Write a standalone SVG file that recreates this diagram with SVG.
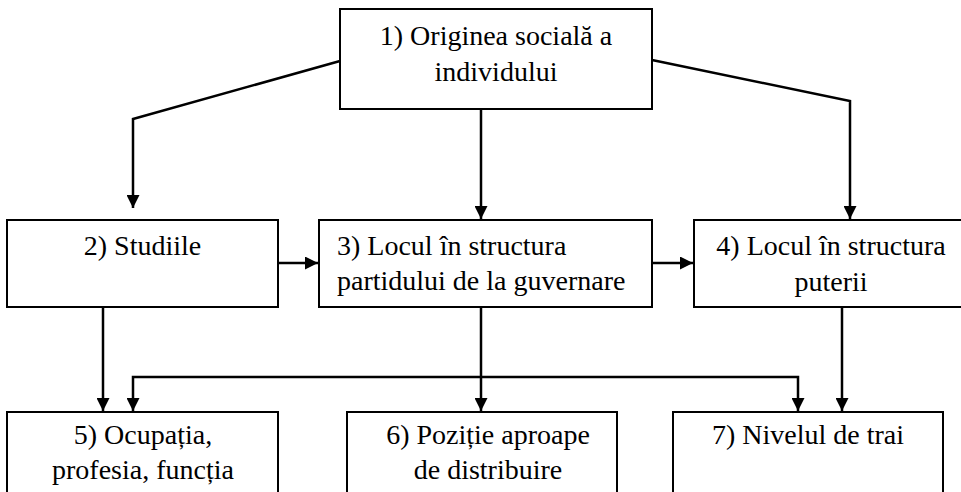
<svg xmlns="http://www.w3.org/2000/svg" width="961" height="492" viewBox="0 0 961 492">
<style>
.box{fill:#fff;stroke:#000;stroke-width:2}
text{font-family:"Liberation Serif","Times New Roman",Times,serif;font-size:28px;fill:#000}
.c{text-anchor:middle}
.ln{fill:none;stroke:#000;stroke-width:2.5}
</style>
<defs>
<marker id="ah" viewBox="0 0 10 10" refX="10" refY="5" markerWidth="15" markerHeight="13" markerUnits="userSpaceOnUse" orient="auto">
<path d="M0,0 L10,5 L0,10 Z" fill="#000"/>
</marker>
</defs>
<rect width="961" height="492" fill="#fff"/>
<g id="connectors">
<polyline class="ln" points="340,61 133,119 133,208" marker-end="url(#ah)"/>
<line class="ln" x1="481" y1="109" x2="481" y2="219" marker-end="url(#ah)"/>
<polyline class="ln" points="652,60 850,101 850,219" marker-end="url(#ah)"/>
<line class="ln" x1="278" y1="263" x2="318" y2="263" marker-end="url(#ah)"/>
<line class="ln" x1="652" y1="263" x2="693" y2="263" marker-end="url(#ah)"/>
<line class="ln" x1="103" y1="307" x2="103" y2="411" marker-end="url(#ah)"/>
<line class="ln" x1="481" y1="307" x2="481" y2="411" marker-end="url(#ah)"/>
<line class="ln" x1="842" y1="307" x2="842" y2="411" marker-end="url(#ah)"/>
<polyline class="ln" points="481,377 133,377 133,411" marker-end="url(#ah)"/>
<polyline class="ln" points="481,377 798,377 798,411" marker-end="url(#ah)"/>
</g>
<g id="n1">
<rect class="box" x="340" y="9" width="312" height="100"/>
<text class="c" x="496" y="45">1) Originea socială a</text>
<text class="c" x="496" y="81">individului</text>
</g>
<g id="n2">
<rect class="box" x="7" y="220" width="271" height="87"/>
<text class="c" x="142.5" y="255">2) Studiile</text>
</g>
<g id="n3">
<rect class="box" x="319" y="220" width="333" height="87"/>
<text x="337" y="255">3) Locul în structura</text>
<text x="337" y="290">partidului de la guvernare</text>
</g>
<g id="n4">
<rect class="box" x="694" y="220" width="275" height="87"/>
<text class="c" x="831" y="255">4) Locul în structura</text>
<text class="c" x="831" y="291">puterii</text>
</g>
<g id="n5">
<rect class="box" x="7" y="412" width="271" height="100"/>
<text class="c" x="143" y="444">5) Ocupația,</text>
<text class="c" x="143" y="479">profesia, funcția</text>
</g>
<g id="n6">
<rect class="box" x="347" y="412" width="270" height="100"/>
<text class="c" x="488" y="444">6) Poziție aproape</text>
<text class="c" x="488" y="479">de distribuire</text>
</g>
<g id="n7">
<rect class="box" x="673" y="412" width="270" height="100"/>
<text class="c" x="808" y="444">7) Nivelul de trai</text>
</g>
</svg>
